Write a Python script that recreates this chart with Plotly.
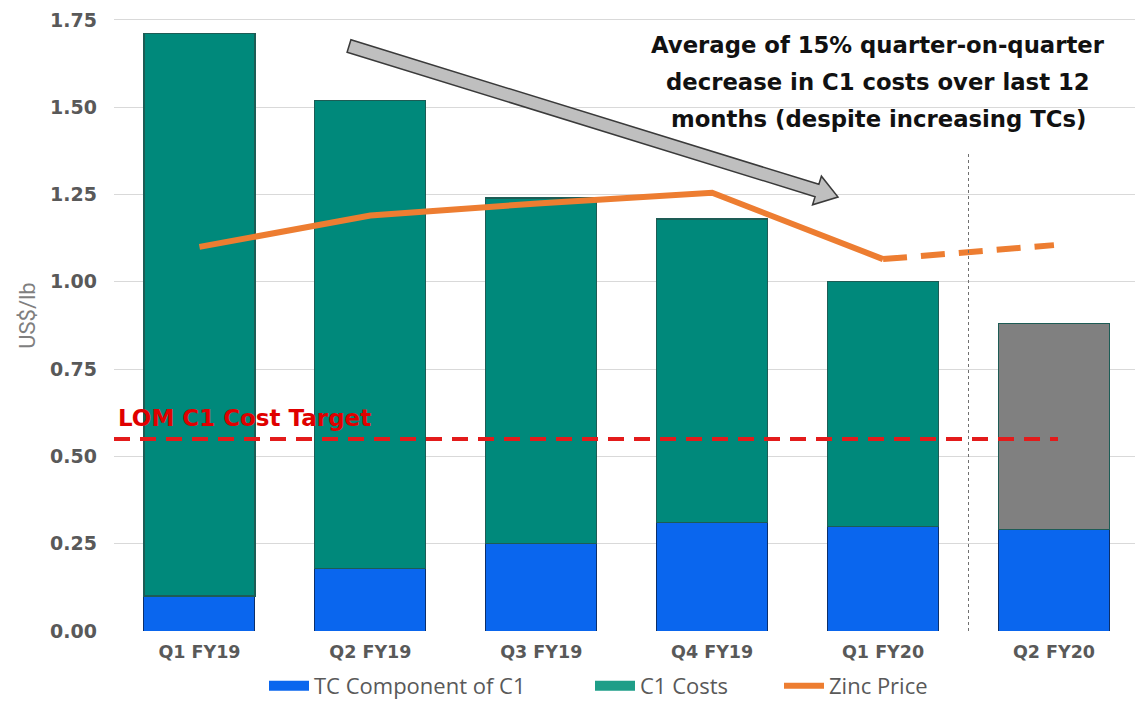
import plotly.graph_objects as go

# ---- data ----
categories = ["Q1 FY19", "Q2 FY19", "Q3 FY19", "Q4 FY19", "Q1 FY20", "Q2 FY20"]
tc_component = [0.10, 0.18, 0.25, 0.31, 0.30, 0.29]
c1_total = [1.71, 1.52, 1.24, 1.18, 1.00, 0.88]
zinc_price = [1.10, 1.19, 1.225, 1.255, 1.065, 1.105]
lom_target = 0.55
y_ticks = [0.0, 0.25, 0.5, 0.75, 1.0, 1.25, 1.5, 1.75]
y_tick_labels = ["0.00", "0.25", "0.50", "0.75", "1.00", "1.25", "1.50", "1.75"]
note_lines = ["Average of 15% quarter-on-quarter",
              "decrease in C1 costs over last 12",
              "months (despite increasing TCs)"]

c1_upper = [round(t - c, 3) for t, c in zip(c1_total, tc_component)]
idx = list(range(len(categories)))

# ---- layout calibration ----
W, H = 1135, 701
ML, MR, MT, MB = 114, 0, 0, 70
plot_w = W - ML - MR
plot_h = H - MT - MB
unit_x = 170.9
x_range = [-0.5, -0.5 + plot_w / unit_x]
unit_y = 349.2
y_range = [0, plot_h / unit_y]

def px_x(px):
    return x_range[0] + (px - ML) / unit_x

def px_y(py):
    return (H - MB - py) / unit_y

blue = "#0A66EE"
teal = "#00897B"
c1_colors = [teal] * (len(categories) - 1) + ["#808080"]
orange = "#ED7D31"

fig = go.Figure()
fig.add_trace(go.Bar(
    x=idx, y=tc_component, name="TC Component of C1", legendgroup="tc",
    showlegend=False,
    marker=dict(color=blue, line=dict(color="#0B2F6B", width=1)),
))
fig.add_trace(go.Bar(
    x=idx, y=c1_upper, name="C1 Costs", legendgroup="c1", showlegend=False,
    marker=dict(color=c1_colors, line=dict(color="#1D5C55", width=1.2)),
))
fig.add_trace(go.Scatter(
    x=idx[:5], y=zinc_price[:5], name="Zinc Price", mode="lines",
    legendgroup="zinc", showlegend=False,
    line=dict(color=orange, width=6),
))
fig.add_trace(go.Scatter(
    x=idx[4:], y=zinc_price[4:], name="Zinc Price", mode="lines",
    legendgroup="zinc", showlegend=False,
    line=dict(color=orange, width=6, dash="24px,14px"),
))
# legend entries (wide rectangular keys as in the reference), one legend each
legend_items = [("TC Component of C1", "tc", blue, 13, "legend", 315),
                ("C1 Costs", "c1", "#1E9E88", 13, "legend2", 641),
                ("Zinc Price", "zinc", orange, 6, "legend3", 830)]
for name, grp, col, w, lg, _ in legend_items:
    fig.add_trace(go.Scatter(x=[None], y=[None], mode="lines", name=name,
                             legendgroup=grp, legend=lg,
                             line=dict(color=col, width=w), hoverinfo="skip"))

# LOM target dashed line
fig.add_shape(type="line", xref="x", yref="y", x0=-0.5, x1=px_x(1058),
              y0=lom_target, y1=lom_target,
              line=dict(color="#E31B1B", width=4, dash="16px,10px"))
fig.add_annotation(x=px_x(116), y=px_y(418), xref="x", yref="y",
                   text="<b>LOM C1 Cost Target</b>", showarrow=False,
                   xanchor="left", yanchor="middle",
                   font=dict(family="DejaVu Sans", size=23, color="#E00000"))

# vertical dotted separator
fig.add_shape(type="line", xref="x", yref="y", x0=4.5, x1=4.5, y0=0, y1=1.37,
              line=dict(color="#707070", width=1, dash="dot"))

# gray arrow
tail = (349, 46)
tip = (838, 197)
dx, dy = tip[0] - tail[0], tip[1] - tail[1]
ln = (dx * dx + dy * dy) ** 0.5
ux, uy = dx / ln, dy / ln
nx, ny = -uy, ux
L, hw, sw = 22, 15, 6.5
base = (tip[0] - ux * L, tip[1] - uy * L)
pts = [
    (tail[0] + nx * sw, tail[1] + ny * sw),
    (base[0] + nx * sw, base[1] + ny * sw),
    (base[0] + nx * hw, base[1] + ny * hw),
    tip,
    (base[0] - nx * hw, base[1] - ny * hw),
    (base[0] - nx * sw, base[1] - ny * sw),
    (tail[0] - nx * sw, tail[1] - ny * sw),
]
path = "M " + " L ".join(f"{px_x(p[0]):.4f},{px_y(p[1]):.4f}" for p in pts) + " Z"
fig.add_shape(type="path", xref="x", yref="y", path=path,
              fillcolor="#BFBFBF", line=dict(color="#3A3A3A", width=1.5))

# note text
for i, t in enumerate(note_lines):
    fig.add_annotation(x=px_x(878), y=px_y(45 + 37 * i), xref="x", yref="y",
                       text=f"<b>{t}</b>", showarrow=False,
                       xanchor="center", yanchor="middle",
                       font=dict(family="DejaVu Sans", size=22.75, color="#111111"))

legend_style = dict(orientation="h", xanchor="left", y=-55 / plot_h,
                    yanchor="middle", bgcolor="rgba(0,0,0,0)",
                    font=dict(family="Open Sans", size=22, color="#595959"),
                    itemwidth=40)
layout_legends = {}
for name, grp, col, w, lg, tx in legend_items:
    layout_legends[lg] = dict(legend_style, x=(tx - 51 - ML) / plot_w)

fig.update_layout(
    width=W, height=H,
    margin=dict(l=ML, r=MR, t=MT, b=MB, autoexpand=False),
    barmode="stack", bargap=0.35,
    plot_bgcolor="white", paper_bgcolor="white",
    showlegend=True,
    xaxis=dict(range=x_range, tickmode="array", tickvals=idx, automargin=False,
               ticktext=[f"<b>{c}</b>" for c in categories],
               tickfont=dict(family="DejaVu Sans", size=17.5, color="#595959"),
               showgrid=False, zeroline=False, showline=False, ticks="",
               ticklabelstandoff=8),
    yaxis=dict(range=y_range, tickmode="array", tickvals=y_ticks, automargin=False,
               ticktext=[f"<b>{t}</b>" for t in y_tick_labels],
               tickfont=dict(family="DejaVu Sans", size=19, color="#595959"),
               showgrid=True, gridcolor="#D9D9D9", gridwidth=1,
               zeroline=False, showline=False, ticks="",
               ticklabelstandoff=16,
               title=dict(text="US$/lb", standoff=8,
                          font=dict(family="Roboto", size=22, color="#7F7F7F"))),
    **layout_legends,
)

fig.write_html("out.html", config={"displayModeBar": False},
               post_script="document.body.style.margin='0';document.body.style.overflow='hidden';")
